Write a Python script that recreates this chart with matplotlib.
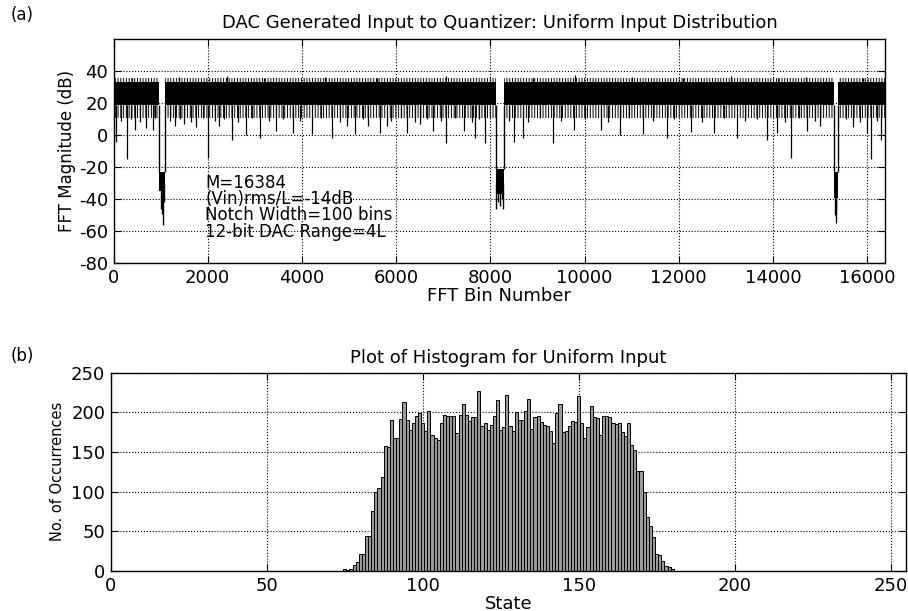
import matplotlib.pyplot as plt

# ---- (a) FFT of the DAC generated input ----
n_bins = 16384
core_lo, core_hi = 19, 33        # solid part of the noise floor (dB)
fringe_lo, fringe_hi = 11, 35.5  # ragged edges of the noise floor (dB)

notch_start = [975, 8110, 15290]
notch_end = [1095, 8290, 15370]
notch_top = [-23, -21, -23]
notch_bottom = [-35, -37, -39]
notch_spike_bins = [1000, 1020, 1045, 1070, 8125, 8160, 8200, 8240, 8275, 15315, 15330, 15345]
notch_spike_db = [-46, -49, -56, -42, -46, -42, -44, -40, -46, -50, -55, -47]

# deep dips below the noise floor
spike_bins = [63, 290, 451, 700, 841, 1300, 1500, 1750, 2009, 2250, 2505, 2823, 3106,
              3460, 3814, 4204, 4628, 4947, 5124, 5400, 5655, 5797, 6221, 6500, 6787,
              7049, 7437, 7671, 7876, 8500, 8697, 9327, 9773, 10339, 10742, 11244,
              11740, 12250, 12745, 13227, 13864, 14087, 14373, 14726, 15000, 15700,
              16000, 16072, 16297]
spike_db = [-4, -15, 3.5, 4.5, 3.5, 6, 7, 5, -14, 6, -3, 0, -2,
            2.5, 1.5, 0.5, -2, 6, 0.5, 6, 1.5, 5.5, 1.5, 7, 2.5,
            -5, 2.5, -2, -5, -4, -2, -5, 3, 3.5, 0, 0.5,
            -2, 2, 1.5, -2, -3, 1.5, -14, 2.5, 6, 5, 1.5, -15, -3]
# medium dips
dip_bins = [150, 380, 560, 880, 1200, 1420, 1650, 1900, 2150, 2350, 2650, 2950, 3300,
            3600, 3950, 4400, 4800, 5300, 5900, 6100, 6400, 6650, 6950, 7250, 7600,
            7750, 8400, 8800, 9050, 9500, 10000, 10500, 10950, 11450, 11900, 12500,
            12950, 13400, 13650, 14250, 14550, 14900, 15550, 15850, 16200]
dip_db = [9, 10, 8, 11, 9, 10, 8, 11, 9, 10, 8, 11, 9,
          10, 9, 11, 8, 10, 9, 11, 8, 10, 9, 11, 8,
          10, 9, 8, 11, 9, 10, 8, 11, 9, 10, 8,
          11, 9, 10, 8, 11, 9, 10, 8, 9]
# peaks above the noise floor
peak_bins = [400, 1400, 2400, 3200, 4500, 5600, 7050, 8900, 9800, 11000, 12100, 13100, 14100, 14700, 15900]
peak_db = [36, 36.5, 37, 36, 36.5, 36, 37, 36, 37.5, 36.5, 36, 37, 36, 36.5, 36]

# ---- (b) histogram of quantizer states ----
states = list(range(75, 181))
counts = [2, 1, 2, 8, 11, 21, 22, 44, 44, 76, 99, 104, 119, 157, 156, 191, 168, 168,
          192, 213, 190, 178, 187, 195, 199, 187, 176, 202, 171, 168, 165, 187, 197,
          195, 195, 195, 174, 197, 211, 197, 189, 194, 194, 227, 183, 187, 178, 184,
          195, 216, 178, 181, 222, 183, 176, 200, 190, 190, 202, 217, 179, 194, 196,
          188, 184, 183, 176, 162, 199, 210, 175, 177, 183, 189, 188, 221, 186, 168,
          182, 208, 194, 193, 172, 195, 196, 194, 186, 185, 186, 175, 170, 187, 159,
          153, 126, 126, 99, 68, 57, 43, 22, 20, 12, 6, 5, 3]

plt.rcParams['font.family'] = 'DejaVu Sans'
plt.rcParams['axes.unicode_minus'] = False
plt.rcParams['hatch.linewidth'] = 0.7
fig = plt.figure(figsize=(9.08, 6.11), dpi=100)


def matlab_axes(ax, size):
    ax.grid(True, linestyle=':', color='black', linewidth=0.8)
    ax.set_axisbelow(True)
    ax.tick_params(direction='in', top=True, right=True, length=5, labelsize=size, pad=4)
    for s in ax.spines.values():
        s.set_linewidth(1.0)


ax1 = fig.add_axes([0.125, 0.569, 0.850, 0.367])
edges = [0] + [v for pair in zip(notch_start, notch_end) for v in pair] + [n_bins]
for i in range(0, len(edges), 2):
    a, b = edges[i], edges[i + 1]
    ax1.fill_between([a, b], fringe_lo, fringe_hi, facecolor='none', edgecolor='black',
                     hatch='||||||', linewidth=0)
    ax1.fill_between([a, b], core_lo, core_hi, color='black', linewidth=0)
for a, b, t, bt in zip(notch_start, notch_end, notch_top, notch_bottom):
    ax1.fill_between([a, b], bt, t, color='black', linewidth=0)
    ax1.vlines([a, b], t, core_lo, color='black', linewidth=1.0)
ax1.vlines(notch_spike_bins, -30, notch_spike_db, color='black', linewidth=1.0)
ax1.vlines(spike_bins, core_lo, spike_db, color='black', linewidth=0.9)
ax1.vlines(dip_bins, core_lo, dip_db, color='black', linewidth=0.9)
ax1.vlines(peak_bins, core_hi, peak_db, color='black', linewidth=0.9)

ax1.set_xlim(0, n_bins)
ax1.set_ylim(-80, 60)
ax1.set_xticks(range(0, 16001, 2000))
ax1.set_yticks(range(-80, 41, 20))
matlab_axes(ax1, 13)
ax1.set_title('DAC Generated Input to Quantizer: Uniform Input Distribution', fontsize=13, pad=8)
ax1.set_xlabel('FFT Bin Number', fontsize=13, labelpad=0)
ax1.set_ylabel('FFT Magnitude (dB)', fontsize=12, labelpad=2)
ax1.text(1950, -24, 'M=16384\n(Vin)rms/L=-14dB\nNotch Width=100 bins\n12-bit DAC Range=4L',
         fontsize=12, va='top', ha='left', linespacing=0.88)
fig.text(0.012, 0.975, '(a)', fontsize=12, va='center')

ax2 = fig.add_axes([0.122, 0.0655, 0.876, 0.3245])
ax2.bar(states, counts, width=1.0, color='#9a9a9a', edgecolor='black', linewidth=0.7)
ax2.set_xlim(0, 255)
ax2.set_ylim(0, 250)
ax2.set_xticks(range(0, 251, 50))
ax2.set_yticks(range(0, 251, 50))
matlab_axes(ax2, 13)
ax2.set_title('Plot of Histogram for Uniform Input', fontsize=13, pad=7)
ax2.set_xlabel('State', fontsize=13, labelpad=0)
ax2.set_ylabel('No. of Occurrences', fontsize=10.5, labelpad=4)
fig.text(0.012, 0.418, '(b)', fontsize=12, va='center')

fig.savefig('out.png', dpi=100)
